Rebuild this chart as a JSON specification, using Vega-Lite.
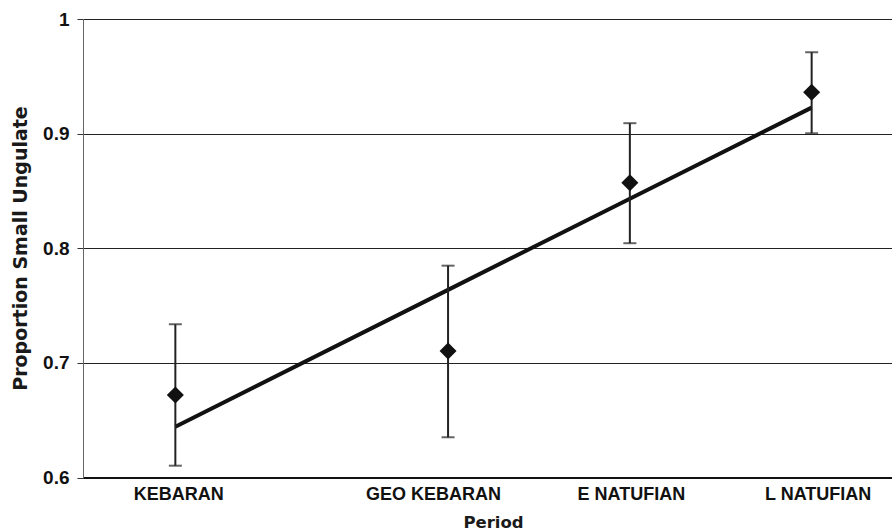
{
  "$schema": "https://vega.github.io/schema/vega-lite/v6.json",
  "autosize": {"type": "none"},
  "padding": {"left": 83, "top": 19, "right": 0, "bottom": 53.5},
  "width": 809,
  "height": 458.5,
  "background": "white",
  "config": {
    "view": {"stroke": null},
    "axisY": {
      "domainColor": "#666",
      "domainWidth": 1,
      "tickColor": "#333",
      "tickSize": 6,
      "tickWidth": 1,
      "grid": true,
      "gridColor": "#222",
      "gridWidth": 1,
      "labelFont": "Liberation Sans",
      "labelFontSize": 19,
      "labelFontWeight": "bold",
      "labelColor": "#111",
      "labelPadding": 8,
      "titleFont": "DejaVu Sans",
      "titleFontSize": 19,
      "titleFontWeight": "bold",
      "titleColor": "#1a1a1a"
    },
    "axisX": {
      "grid": false,
      "ticks": false,
      "domainColor": "#111",
      "domainWidth": 2,
      "labelFont": "Liberation Sans",
      "labelFontSize": 18,
      "labelFontWeight": "bold",
      "labelColor": "#111",
      "labelPadding": 8,
      "titleFont": "DejaVu Sans",
      "titleFontSize": 16.5,
      "titleFontWeight": "bold",
      "titleColor": "#1a1a1a"
    }
  },
  "data": {
    "values": [
      {"period": "KEBARAN", "x": 1, "mean": 0.672, "lo": 0.6103, "hi": 0.7337, "fit": 0.6443},
      {"period": "GEO KEBARAN", "x": 2.5, "mean": 0.7104, "lo": 0.6351, "hi": 0.7848, "fit": 0.7637},
      {"period": "E NATUFIAN", "x": 3.5, "mean": 0.8572, "lo": 0.8044, "hi": 0.9091, "fit": 0.8432},
      {"period": "L NATUFIAN", "x": 4.5, "mean": 0.9361, "lo": 0.9003, "hi": 0.971, "fit": 0.9227}
    ]
  },
  "encoding": {
    "x": {
      "field": "x",
      "type": "quantitative",
      "scale": {"domain": [0.492, 4.942], "zero": false, "nice": false},
      "axis": {
        "title": "Period",
        "values": [1, 2.5, 3.5, 4.5],
        "labelExpr": "datum.value == 1 ? 'KEBARAN' : datum.value == 2.5 ? 'GEO KEBARAN' : datum.value == 3.5 ? 'E NATUFIAN' : 'L NATUFIAN'",
        "labelOffset": {
          "condition": [
            {"test": "datum.value == 1", "value": 3},
            {"test": "datum.value == 2.5", "value": -15},
            {"test": "datum.value == 3.5", "value": 1}
          ],
          "value": 6
        },
        "titleX": 410,
        "titleY": 50,
        "titleBaseline": "alphabetic",
        "titleAlign": "center"
      }
    }
  },
  "layer": [
    {
      "mark": {"type": "line", "color": "#111", "strokeWidth": 4},
      "encoding": {
        "y": {
          "field": "fit",
          "type": "quantitative",
          "scale": {"domain": [0.6, 1], "zero": false, "nice": false},
          "axis": {
            "title": "Proportion Small Ungulate",
            "values": [0.6, 0.7, 0.8, 0.9, 1],
            "format": "~g",
            "titleX": -57,
            "titleY": 229,
            "titleAngle": 270,
            "titleBaseline": "alphabetic",
            "titleAlign": "center"
          }
        }
      }
    },
    {
      "mark": {"type": "rule", "color": "#222", "strokeWidth": 2},
      "encoding": {
        "y": {"field": "lo", "type": "quantitative", "scale": {"domain": [0.6, 1], "zero": false, "nice": false}},
        "y2": {"field": "hi"}
      }
    },
    {
      "mark": {"type": "tick", "orient": "horizontal", "size": 13, "thickness": 2, "color": "#222"},
      "encoding": {
        "y": {"field": "lo", "type": "quantitative", "scale": {"domain": [0.6, 1], "zero": false, "nice": false}}
      }
    },
    {
      "mark": {"type": "tick", "orient": "horizontal", "size": 13, "thickness": 2, "color": "#222"},
      "encoding": {
        "y": {"field": "hi", "type": "quantitative", "scale": {"domain": [0.6, 1], "zero": false, "nice": false}}
      }
    },
    {
      "mark": {"type": "point", "shape": "diamond", "filled": true, "size": 290, "color": "#111", "opacity": 1},
      "encoding": {
        "y": {"field": "mean", "type": "quantitative", "scale": {"domain": [0.6, 1], "zero": false, "nice": false}}
      }
    }
  ]
}
